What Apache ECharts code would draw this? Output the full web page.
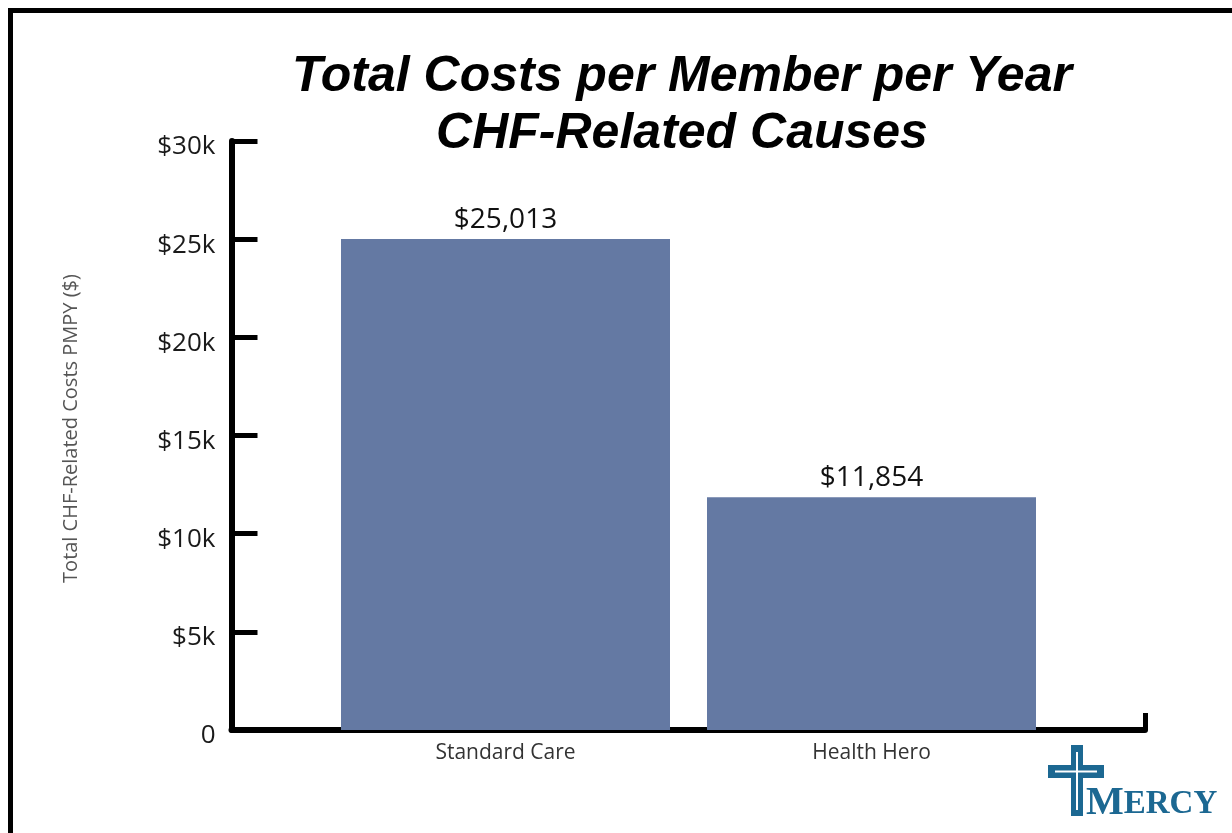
<!DOCTYPE html>
<html>
<head>
<meta charset="utf-8">
<script src="https://cdn.jsdelivr.net/npm/echarts@6/dist/echarts.min.js"></script>
<style>
html,body{margin:0;padding:0;background:#fff;}
#chart{width:1232px;height:833px;}
</style>
</head>
<body>
<div id="chart"></div>
<script>
const categories = ['Standard Care', 'Health Hero'];
const costs = [25013, 11854];
const yTickLabels = {0: '0', 5000: '$5k', 10000: '$10k', 15000: '$15k', 20000: '$20k', 25000: '$25k', 30000: '$30k'};
const titleLines = ['Total Costs per Member per Year', 'CHF-Related Causes'];
const yAxisName = 'Total CHF-Related Costs PMPY ($)';

const chart = echarts.init(document.getElementById('chart'));
const barColor = '#6479a3';
const logoColor = '#1c6892';
const bodyFont = 'Open Sans, Noto Sans, sans-serif';

chart.setOption({
  backgroundColor: '#ffffff',
  animation: false,
  title: {
    text: titleLines.join('\n'),
    left: 677, top: 44, textAlign: 'center',
    textStyle: {
      fontFamily: 'Liberation Sans, Arial, sans-serif',
      fontSize: 50, fontWeight: 'bold', fontStyle: 'italic',
      color: '#000', lineHeight: 57
    }
  },
  grid: [
    {left: 231.5, right: 87, top: 141, bottom: 103},
    {left: 322.5, right: 177.5, top: 141, bottom: 103}
  ],
  xAxis: [
    {
      gridIndex: 0, type: 'value', min: 0, max: 1, interval: 1,
      axisLine: {show: true, lineStyle: {color: '#000', width: 6}},
      axisTick: {show: true, inside: true, length: 17, lineStyle: {color: '#000', width: 5}},
      axisLabel: {show: false}, splitLine: {show: false}
    },
    {
      gridIndex: 1, type: 'category', data: categories,
      axisLine: {show: false}, axisTick: {show: false},
      axisLabel: {
        show: true, margin: 13, color: '#333', fontSize: 21,
        fontFamily: bodyFont
      }
    }
  ],
  yAxis: [
    {
      gridIndex: 0, type: 'value', min: 0, max: 30000, interval: 5000,
      name: yAxisName, nameLocation: 'middle', nameGap: 150, nameRotate: 90,
      nameTextStyle: {color: '#555', fontSize: 20, fontFamily: bodyFont, padding: [0, 0, 0, 14]},
      axisLine: {show: true, lineStyle: {color: '#000', width: 6}},
      axisTick: {show: true, inside: true, length: 26, lineStyle: {color: '#000', width: 5}},
      axisLabel: {
        margin: 16,
        formatter: v => '{v|' + yTickLabels[v] + '}',
        rich: {
          v: {color: '#1a1a1a', fontSize: 26, fontFamily: bodyFont, padding: [12, 0, 0, 0]}
        }
      },
      splitLine: {show: false}
    },
    {
      gridIndex: 1, type: 'value', min: 0, max: 30000, interval: 5000, show: false
    }
  ],
  series: [{
    type: 'bar', xAxisIndex: 1, yAxisIndex: 1,
    data: costs, barWidth: 329,
    itemStyle: {color: barColor},
    label: {
      show: true, position: 'top', distance: 5,
      color: '#111', fontSize: 28,
      fontFamily: bodyFont,
      formatter: p => '$' + p.value.toLocaleString('en-US')
    }
  }],
  graphic: [
    {type: 'rect', shape: {x: 10.5, y: 10.5, width: 1400, height: 1000},
     style: {fill: 'none', stroke: '#000', lineWidth: 5}, silent: true},
    // Mercy logo
    {type: 'rect', shape: {x: 1071, y: 745, width: 12, height: 71}, style: {fill: logoColor}},
    {type: 'rect', shape: {x: 1048, y: 765, width: 56, height: 13}, style: {fill: logoColor}},
    {type: 'rect', shape: {x: 1076, y: 752, width: 2, height: 58}, style: {fill: '#ffffff'}},
    {type: 'rect', shape: {x: 1055, y: 770.5, width: 42, height: 2}, style: {fill: '#ffffff'}},
    {type: 'text', left: 1086, top: 784,
     style: {
       text: '{a|M}{b|ERCY}',
       rich: {
         a: {fontFamily: 'Liberation Serif, serif', fontSize: 40, fill: logoColor, fontWeight: 'bold'},
         b: {fontFamily: 'Liberation Serif, serif', fontSize: 33, fill: logoColor, fontWeight: 'bold'}
       }
     }}
  ]
});
</script>
</body>
</html>
